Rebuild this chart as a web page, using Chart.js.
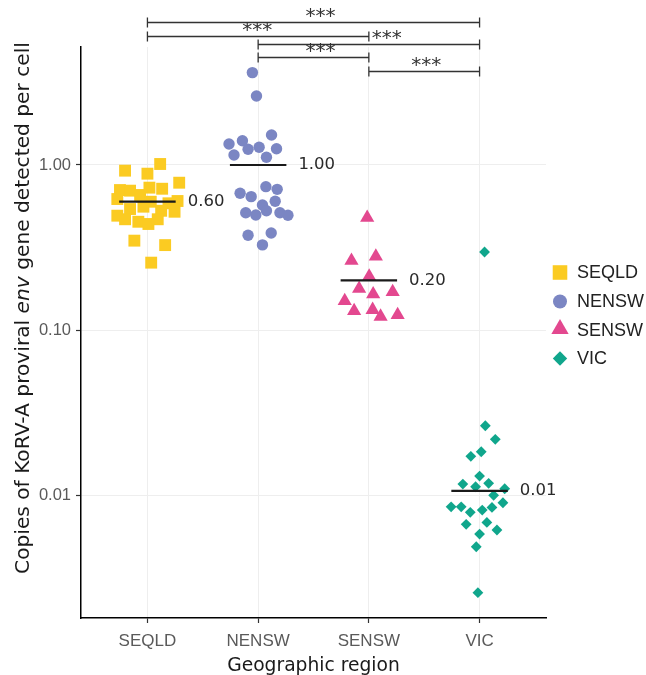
<!DOCTYPE html>
<html>
<head>
<meta charset="utf-8">
<script src="https://cdn.jsdelivr.net/npm/chart.js@4.4.1/dist/chart.umd.min.js"></script>
<style>
  html, body { margin: 0; padding: 0; background: #fff; }
</style>
</head>
<body>
<canvas id="getChart" width="646" height="675"></canvas>
<script>
// categories
var regions = ["SEQLD", "NENSW", "SENSW", "VIC"];
var colours = ["#FBCB22", "#7B86C3", "#E3488F", "#10A68C"];

// copies per cell; offsets = horizontal spread inside each group
var seqldValues = [0.924, 1.014, 0.886, 0.781, 0.705, 0.699, 0.729, 0.718, 0.658, 0.622, 0.599, 0.586, 0.605,
                   0.541, 0.559, 0.528, 0.521, 0.493, 0.469, 0.453, 0.439, 0.469, 0.348, 0.327, 0.256];
var seqldOffsets = [-0.202, 0.115, 0.0, 0.287, -0.248, -0.157, 0.018, 0.133, -0.066, -0.272, 0.03, 0.19, 0.272,
                    -0.157, -0.036, 0.124, 0.245, -0.272, -0.202, -0.082, 0.009, 0.093, -0.118, 0.16, 0.034];

var nenswValues = [3.63, 2.62, 1.52, 1.341, 1.404, 1.245, 1.280, 1.255, 1.150, 1.113, 0.739, 0.712,
                   0.674, 0.643, 0.603, 0.572, 0.528, 0.514, 0.498, 0.514, 0.496, 0.375, 0.387, 0.328];
var nenswOffsets = [-0.052, -0.015, 0.121, -0.263, -0.142, -0.091, 0.009, 0.166, -0.218, 0.075, 0.07, 0.172,
                    -0.163, -0.063, 0.154, 0.039, 0.075, -0.112, -0.021, 0.197, 0.269, -0.091, 0.118, 0.039];

var senswValues = [0.479, 0.263, 0.279, 0.211, 0.178, 0.165, 0.170, 0.150, 0.1307, 0.1326, 0.1207, 0.1236];
var senswOffsets = [-0.015, -0.157, 0.063, 0.003, -0.088, 0.039, 0.215, -0.218, -0.133, 0.034, 0.106, 0.26];

var vicValues = [0.297, 0.0263, 0.02176, 0.0183, 0.01716, 0.01303, 0.01166, 0.01123, 0.01177, 0.01092, 0.00996, 0.00898,
                 0.00849, 0.00849, 0.00786, 0.00811, 0.00842, 0.00665, 0.00683, 0.00614, 0.0058, 0.00486, 0.00256];
var vicOffsets = [0.045, 0.052, 0.142, 0.015, -0.079, 0.0, -0.151, -0.036, 0.082, 0.227, 0.127, 0.211,
                  -0.257, -0.166, -0.084, 0.024, 0.112, -0.121, 0.066, 0.157, 0.0, -0.03, -0.015];

var medians = [0.60, 1.00, 0.20, 0.0106];
var medianLabels = ["0.60", "1.00", "0.20", "0.01"];

var yTickValues = [0.01, 0.1, 1];
var yTickLabels = ["0.01", "0.10", "1.00"];

// significance brackets: group pairs (1-based) and height in data units
var bracketPairs = [[1, 4], [1, 3], [2, 4], [2, 3], [3, 4]];
var bracketLevels = [7.36, 6.09, 5.41, 4.50, 3.71];
var bracketText = "***";

var allValues = [seqldValues, nenswValues, senswValues, vicValues];
var allOffsets = [seqldOffsets, nenswOffsets, senswOffsets, vicOffsets];
var shapes = ["rect", "circle", "triangle", "rectRot"];
var radii = [8.4, 5.7, 8.2, 5.4];
var legendRadii = [10.3, 7, 10, 7.2];

var datasets = [];
regions.forEach(function (r, i) {
    datasets.push({
        type: "scatter",
        label: r,
        data: allValues[i].map(function (v, j) { return { x: i + 1 + allOffsets[i][j], y: v }; }),
        pointStyle: shapes[i],
        pointRadius: radii[i],
        pointHoverRadius: radii[i],
        backgroundColor: colours[i],
        borderWidth: 0,
        pointBorderWidth: 0,
        order: 1
    });
});
medians.forEach(function (m, i) {
    datasets.push({
        type: "line",
        label: "median " + regions[i],
        data: [{ x: i + 1 - 0.255, y: m }, { x: i + 1 + 0.255, y: m }],
        borderColor: "#1a1a1a",
        borderWidth: 2.2,
        pointRadius: 0,
        order: 0
    });
});

function drawShape(ctx, style, r, x, y) {
    if (Chart.helpers && Chart.helpers.drawPoint) {
        Chart.helpers.drawPoint(ctx, { pointStyle: style, radius: r, rotation: 0, borderWidth: 0 }, x, y);
    } else {
        ctx.beginPath(); ctx.arc(x, y, r, 0, Math.PI * 2); ctx.fill();
    }
}

var extras = {
    id: "extras",
    afterDraw: function (chart) {
        var ctx = chart.ctx, xs = chart.scales.x, ys = chart.scales.y, area = chart.chartArea;
        ctx.save();

        // median labels
        ctx.font = '16.5px "DejaVu Sans"';
        ctx.fillStyle = "#2a2a2a";
        ctx.textAlign = "left";
        ctx.textBaseline = "middle";
        medians.forEach(function (m, i) {
            ctx.fillText(medianLabels[i], xs.getPixelForValue(i + 1.255) + 12, ys.getPixelForValue(m));
        });

        // brackets
        var shift = [7, -1, 18, 7, 2];
        ctx.strokeStyle = "#333";
        ctx.lineWidth = 1.3;
        ctx.font = '20px "DejaVu Sans"';
        ctx.textAlign = "center";
        ctx.textBaseline = "alphabetic";
        bracketPairs.forEach(function (p, i) {
            var x1 = xs.getPixelForValue(p[0]), x2 = xs.getPixelForValue(p[1]);
            var y = Math.round(ys.getPixelForValue(bracketLevels[i])) + 0.5;
            ctx.beginPath();
            ctx.moveTo(x1, y); ctx.lineTo(x2, y);
            ctx.moveTo(x1, y - 5); ctx.lineTo(x1, y + 5);
            ctx.moveTo(x2, y - 5); ctx.lineTo(x2, y + 5);
            ctx.stroke();
            ctx.fillStyle = "#333";
            ctx.fillText(bracketText, (x1 + x2) / 2 + shift[i], y - 0.5);
        });

        // legend
        var rows = [272.5, 301.5, 330, 358.5];
        ctx.textAlign = "left";
        ctx.textBaseline = "middle";
        ctx.font = '18px "Liberation Sans"';
        regions.forEach(function (r, i) {
            ctx.fillStyle = colours[i];
            drawShape(ctx, shapes[i], legendRadii[i], 560, rows[i] + (i === 2 ? -1 : 0));
            ctx.fillStyle = "#222";
            ctx.fillText(r, 577, rows[i] + 1);
        });

        // x title
        ctx.fillStyle = "#1a1a1a";
        ctx.font = '18.7px "DejaVu Sans"';
        ctx.textAlign = "center";
        ctx.textBaseline = "alphabetic";
        ctx.fillText("Geographic region", (area.left + area.right) / 2, 671);

        // y title with italic "env"
        var parts = [["Copies of KoRV-A proviral ", ""], ["env", "italic "], [" gene detected per cell", ""]];
        var widths = parts.map(function (p) { ctx.font = p[1] + '20.2px "DejaVu Sans"'; return ctx.measureText(p[0]).width; });
        var total = widths.reduce(function (a, b) { return a + b; }, 0);
        ctx.translate(29, 308);
        ctx.rotate(-Math.PI / 2);
        ctx.textAlign = "left";
        var pos = -total / 2;
        parts.forEach(function (p, i) {
            ctx.font = p[1] + '20.2px "DejaVu Sans"';
            ctx.fillText(p[0], pos, 0);
            pos += widths[i];
        });
        ctx.restore();
    }
};

var ctx = document.getElementById("getChart");
var chart = new Chart(ctx, {
    type: "scatter",
    data: { datasets: datasets },
    options: {
        responsive: false,
        animation: false,
        layout: { padding: { top: 47, right: 100, left: 0, bottom: 0 } },
        plugins: { legend: { display: false }, tooltip: { enabled: false } },
        scales: {
            x: {
                type: "linear",
                min: 0.4,
                max: 4.6,
                afterBuildTicks: function (s) { s.ticks = regions.map(function (r, i) { return { value: i + 1 }; }); },
                afterFit: function (s) { s.height = 57; },
                ticks: {
                    callback: function (v, i) { return regions[i]; },
                    color: "#5a5a5a",
                    font: { family: "Liberation Sans", size: 17 },
                    padding: 8,
                    maxRotation: 0,
                    autoSkip: false
                },
                grid: { color: "#eeeeee", lineWidth: 1, tickLength: 5, tickColor: "#333", tickWidth: 1.2 },
                border: { color: "#000", width: 1.5 }
            },
            y: {
                type: "logarithmic",
                min: Math.pow(10, -2.745),
                max: Math.pow(10, 0.715),
                afterBuildTicks: function (s) { s.ticks = yTickValues.map(function (v) { return { value: v }; }); },
                afterFit: function (s) { s.width = 81; },
                ticks: {
                    callback: function (v, i) { return yTickLabels[i]; },
                    color: "#5a5a5a",
                    font: { family: "Liberation Sans", size: 16.5 },
                    padding: 5,
                    autoSkip: false
                },
                grid: { color: "#eeeeee", lineWidth: 1, tickLength: 5, tickColor: "#333", tickWidth: 1.2 },
                border: { color: "#000", width: 1.5 }
            }
        }
    },
    plugins: [extras]
});
</script>
</body>
</html>
